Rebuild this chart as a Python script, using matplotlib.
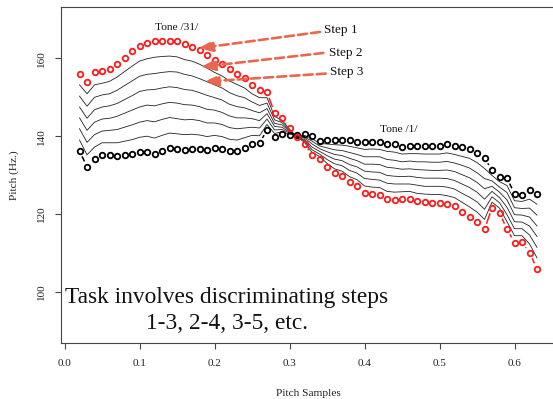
import matplotlib
matplotlib.use('Agg')
import matplotlib.pyplot as plt
import numpy as np
from matplotlib.collections import LineCollection

plt.rcParams['font.family'] = ['Liberation Serif', 'DejaVu Serif']

# ---------------- data ----------------
x_samples = [0.02, 0.03, 0.04, 0.05, 0.06, 0.07, 0.08, 0.09, 0.10, 0.11,
             0.12, 0.13, 0.14, 0.15, 0.16, 0.17, 0.18, 0.19, 0.20, 0.21,
             0.22, 0.23, 0.24, 0.25, 0.26, 0.27, 0.28, 0.29, 0.30, 0.31,
             0.32, 0.33, 0.34, 0.35, 0.36, 0.37, 0.38, 0.39, 0.40, 0.41,
             0.42, 0.43, 0.44, 0.45, 0.46, 0.47, 0.48, 0.49, 0.50, 0.51,
             0.52, 0.53, 0.54, 0.55, 0.56, 0.57, 0.58, 0.59, 0.60, 0.61,
             0.62, 0.63]

# Step 1 (red circles)
step1_red = [156.0, 154.0, 156.4, 156.7, 157.2, 158.6, 160.2, 161.8, 163.2, 163.9,
             164.4, 164.5, 164.5, 164.4, 163.6, 163.0, 162.1, 161.0, 159.7, 158.6,
             157.2, 156.1, 155.0, 153.1, 151.8, 151.3, 146.0, 144.7, 142.0, 139.7,
             138.1, 135.1, 134.1, 132.0, 130.4, 129.7, 128.1, 127.2, 125.3, 125.0,
             124.8, 123.8, 123.6, 123.8, 123.8, 123.3, 123.0, 122.9, 122.9, 122.5,
             122.0, 120.6, 119.3, 118.0, 116.0, 121.6, 120.2, 116.1, 112.6, 112.7,
             110.0, 105.9]

step2 = [153.2, 150.9, 153.2, 153.6, 154.1, 155.2, 156.6, 158.0, 159.3, 159.9,
         160.3, 160.5, 160.6, 160.4, 159.7, 159.3, 158.5, 157.5, 156.4, 155.5,
         154.2, 153.3, 152.4, 150.9, 149.9, 149.9, 145.1, 144.1, 141.8, 139.8,
         138.4, 135.8, 134.8, 133.0, 131.6, 131.0, 129.6, 128.8, 127.2, 126.9,
         126.8, 125.8, 125.6, 125.7, 125.8, 125.3, 125.1, 125.0, 125.0, 124.7,
         124.2, 123.0, 121.8, 120.5, 118.6, 123.0, 121.5, 118.0, 114.4, 114.4,
         112.3, 108.7]

step3 = [150.3, 147.7, 150.0, 150.6, 150.9, 151.8, 153.0, 154.2, 155.4, 155.9,
         156.1, 156.4, 156.6, 156.5, 155.9, 155.5, 154.8, 154.0, 153.2, 152.4,
         151.2, 150.4, 149.9, 148.8, 147.9, 148.5, 144.2, 143.5, 141.5, 139.8,
         138.8, 136.5, 135.4, 134.0, 132.9, 132.4, 131.2, 130.5, 129.1, 128.9,
         128.7, 127.9, 127.7, 127.7, 127.7, 127.4, 127.1, 127.1, 127.1, 126.9,
         126.4, 125.3, 124.3, 123.1, 121.2, 124.4, 122.9, 119.8, 116.2, 116.2,
         114.6, 111.4]

step4 = [147.5, 144.6, 146.8, 147.5, 147.8, 148.4, 149.4, 150.4, 151.5, 151.9,
         152.0, 152.4, 152.7, 152.5, 152.0, 151.8, 151.2, 150.5, 149.9, 149.3,
         148.2, 147.6, 147.3, 146.6, 146.0, 147.1, 143.3, 142.9, 141.3, 139.9,
         139.1, 137.2, 136.1, 135.0, 134.1, 133.7, 132.7, 132.1, 131.0, 130.8,
         130.7, 129.9, 129.7, 129.6, 129.7, 129.4, 129.2, 129.2, 129.2, 129.1,
         128.6, 127.7, 126.8, 125.6, 123.8, 125.8, 124.2, 121.7, 118.0, 117.9,
         116.9, 114.2]

step5 = [144.7, 141.5, 143.6, 144.4, 144.6, 145.1, 145.9, 146.7, 147.5, 148.0,
         147.8, 148.3, 148.7, 148.5, 148.1, 148.0, 147.6, 146.9, 146.7, 146.1,
         145.2, 144.7, 144.7, 144.5, 144.0, 145.8, 142.5, 142.3, 141.0, 140.0,
         139.5, 138.0, 136.8, 136.0, 135.3, 135.0, 134.3, 133.7, 132.8, 132.8,
         132.7, 132.0, 131.8, 131.5, 131.6, 131.4, 131.3, 131.2, 131.2, 131.3,
         130.9, 130.1, 129.3, 128.1, 126.5, 127.1, 125.6, 123.6, 119.8, 119.7,
         119.2, 116.9]

step6 = [141.9, 138.4, 140.4, 141.3, 141.5, 141.7, 142.3, 142.9, 143.6, 144.0,
         143.7, 144.3, 144.8, 144.5, 144.2, 144.3, 144.0, 143.4, 143.4, 143.0,
         142.2, 141.9, 142.1, 142.3, 142.1, 144.4, 141.6, 141.7, 140.8, 140.1,
         139.8, 138.7, 137.5, 137.0, 136.5, 136.3, 135.8, 135.3, 134.7, 134.7,
         134.7, 134.0, 133.8, 133.4, 133.6, 133.4, 133.4, 133.3, 133.3, 133.5,
         133.1, 132.5, 131.8, 130.6, 129.1, 128.5, 126.9, 125.5, 121.6, 121.4,
         121.5, 119.7]

step7 = [139.0, 135.2, 137.2, 138.3, 138.3, 138.3, 138.7, 139.1, 139.7, 140.0,
         139.5, 140.2, 140.8, 140.6, 140.4, 140.5, 140.3, 139.9, 140.2, 139.9,
         139.2, 139.0, 139.6, 140.2, 140.1, 143.0, 140.7, 141.1, 140.5, 140.1,
         140.2, 139.4, 138.1, 138.0, 137.8, 137.7, 137.4, 137.0, 136.6, 136.7,
         136.6, 136.1, 135.9, 135.4, 135.5, 135.5, 135.4, 135.4, 135.4, 135.7,
         135.3, 134.8, 134.3, 133.2, 131.7, 129.9, 128.3, 127.3, 123.4, 123.2,
         123.8, 122.5]

# Step 8 (black circles)
step8_black = [136.2, 132.1, 134.0, 135.2, 135.2, 134.9, 135.1, 135.3, 135.8, 136.0,
               135.4, 136.2, 136.9, 136.6, 136.5, 136.8, 136.7, 136.4, 136.9, 136.8,
               136.2, 136.2, 137.0, 138.0, 138.2, 141.6, 139.8, 140.5, 140.3, 140.2,
               140.5, 140.1, 138.8, 139.0, 139.0, 139.0, 138.9, 138.6, 138.5, 138.6,
               138.6, 138.1, 137.9, 137.3, 137.5, 137.5, 137.5, 137.5, 137.5, 137.9,
               137.5, 137.2, 136.8, 135.7, 134.3, 131.3, 129.6, 129.2, 125.2, 124.9,
               126.1, 125.2]

x_ticks = [0.0, 0.1, 0.2, 0.3, 0.4, 0.5, 0.6]
x_tick_labels = ['0.0', '0.1', '0.2', '0.3', '0.4', '0.5', '0.6']
y_ticks = [100, 120, 140, 160]
y_tick_labels = ['100', '120', '140', '160']

step_labels = ['Step 1', 'Step 2', 'Step 3']
arrow_tips = [(0.1783, 162.6), (0.1816, 157.8), (0.186, 154.0)]
arrow_tails = [(0.3407, 166.8), (0.3451, 161.4), (0.3483, 156.1)]
step_label_pos = [(0.346, 167.3), (0.3527, 161.3), (0.354, 156.4)]

# ---------------- figure ----------------
W, H = 553, 399
fig = plt.figure(figsize=(W / 100, H / 100), dpi=100)
ax = fig.add_axes([61 / W, 56 / H, 494.3 / W, 336.3 / H])
ax.set_xlim(-0.0047, 0.6544)
ax.set_ylim(86.8, 173.3)

axis_col = '#444444'
for s in ['left', 'bottom', 'top', 'right']:
    ax.spines[s].set_color(axis_col)
    ax.spines[s].set_linewidth(0.8)

ax.set_xticks(x_ticks)
ax.set_xticklabels(x_tick_labels)
ax.set_yticks(y_ticks)
ax.set_yticklabels(y_tick_labels)
ax.tick_params(axis='both', direction='out', length=4.5, width=0.8,
               color=axis_col, labelsize=8, labelcolor='#222222')
ax.tick_params(axis='x', pad=7)
ax.tick_params(axis='y', pad=6)
for lab in ax.get_yticklabels():
    lab.set_rotation(90)
    lab.set_va('center')

# intermediate steps
for vals in [step2, step3, step4, step5, step6, step7]:
    ax.plot(x_samples, vals, color='#222222', lw=0.6, zorder=2)


def type_b(xs, ys, color, gap_px=6.0):
    pts = ax.transData.transform(np.column_stack([xs, ys]))
    segs = []
    for p0, p1 in zip(pts[:-1], pts[1:]):
        v = p1 - p0
        L = np.hypot(*v)
        if L > 2 * gap_px + 0.5:
            u = v / L
            a = p0 + u * gap_px
            b = p1 - u * gap_px
            segs.append(ax.transData.inverted().transform(np.vstack([a, b])))
    if segs:
        ax.add_collection(LineCollection(segs, colors=color, linewidths=1.1, zorder=3))
    ax.plot(xs, ys, 'o', ms=4.0, mfc='none', mec=color, mew=1.3, zorder=4)


type_b(x_samples, step8_black, 'black')
type_b(x_samples, step1_red, '#ff1a1a')

# annotations
arrow_col = '#e8684f'
for lab, tip, tail, tp in zip(step_labels, arrow_tips, arrow_tails, step_label_pos):
    ax.annotate('', xy=tip, xytext=tail,
                arrowprops=dict(arrowstyle='-|>,head_length=0.85,head_width=0.32',
                                linestyle=(0, (3.4, 1.6)), lw=1.9, color=arrow_col,
                                shrinkA=0, shrinkB=0, mutation_scale=10),
                zorder=5)
    ax.text(tp[0], tp[1], lab, ha='left', va='center', fontsize=9.5, color='#111111')

ax.text(0.149, 168.0, 'Tone /31/', ha='center', va='center', fontsize=8.2, color='#111111')
ax.text(0.4456, 141.75, 'Tone /1/', ha='center', va='center', fontsize=8.2, color='#111111')

ax.text(0.2167, 97.1, 'Task involves discriminating steps', ha='center', va='baseline',
        fontsize=16.8, color='#111111')
ax.text(0.2167, 90.3, '1-3, 2-4, 3-5, etc.', ha='center', va='baseline',
        fontsize=16.8, color='#111111')

fig.text(308 / W, 1 - 394 / H, 'Pitch Samples', ha='center', va='center', fontsize=8.2,
         color='#222222')
fig.text(14 / W, 1 - 175 / H, 'Pitch (Hz.)', ha='center', va='center', rotation=90,
         fontsize=8.2, color='#222222')

fig.savefig('out.png', dpi=100)
